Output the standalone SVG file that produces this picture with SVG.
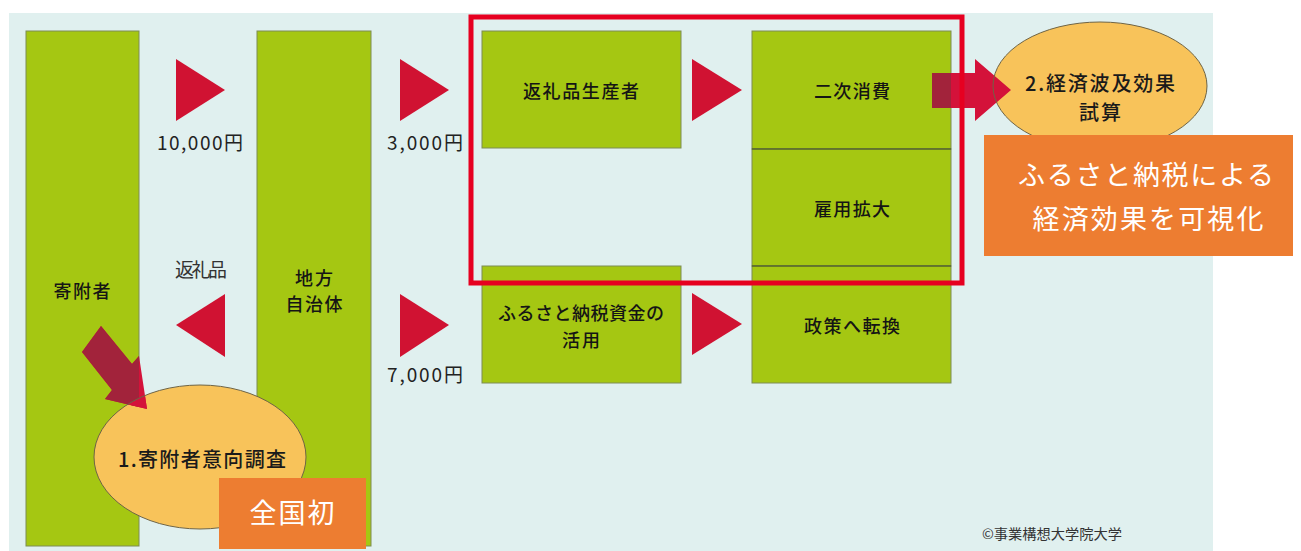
<svg xmlns="http://www.w3.org/2000/svg" width="1301" height="551" viewBox="0 0 1301 551">
  <style>
    .box{fill:#a5c712;stroke:#7d8c55;stroke-width:1}
    .lbl{font-family:"Noto Sans CJK JP","Noto Sans",sans-serif;font-size:18px;fill:#151515;text-anchor:middle;dominant-baseline:central;font-weight:500}
    .num{font-family:"Noto Sans CJK JP","Noto Sans",sans-serif;font-size:19px;fill:#222;text-anchor:middle;dominant-baseline:central}
    .ell{fill:#f8c35a}
    .ellS{fill:none;stroke:#6f6445;stroke-width:1}
    .elab{font-family:"Noto Sans CJK JP","Noto Sans",sans-serif;font-size:20px;fill:#1a1a1a;text-anchor:middle;dominant-baseline:central;font-weight:500}
    .tri{fill:#d01232}
    .orange{fill:#ed7d31}
    .wt{font-family:"Noto Sans CJK JP","Noto Sans",sans-serif;fill:#ffffff;text-anchor:middle;dominant-baseline:central}
    .bright{fill:#d4123a}
    .dark{fill:#a2233b}
  </style>
  <defs>
    <clipPath id="cBox1"><rect x="26" y="31" width="113" height="515"/></clipPath>
    <clipPath id="cEll1"><ellipse cx="200" cy="457" rx="106" ry="72"/></clipPath>
    <clipPath id="cBox4"><rect x="752" y="31" width="199" height="118"/></clipPath>
  </defs>

  <rect x="9" y="13" width="1204" height="538" fill="#e0f0ef"/>

  <g id="node-kifusha">
    <rect class="box" x="26" y="31" width="113" height="515"/>
    <text class="lbl" x="82" y="290" textLength="57" lengthAdjust="spacing">寄附者</text>
  </g>
  <g id="node-chihou">
    <rect class="box" x="257" y="31" width="114" height="515"/>
    <text class="lbl" x="314" y="277" textLength="38" lengthAdjust="spacing">地方</text>
    <text class="lbl" x="314" y="303" textLength="57" lengthAdjust="spacing">自治体</text>
  </g>
  <g id="node-henreihin-seisan">
    <rect class="box" x="482" y="31" width="199" height="117"/>
    <text class="lbl" x="581" y="90" textLength="116" lengthAdjust="spacing">返礼品生産者</text>
  </g>
  <g id="node-katsuyou">
    <rect class="box" x="482" y="266" width="199" height="117"/>
    <text class="lbl" x="581" y="312" textLength="166" lengthAdjust="spacing">ふるさと納税資金の</text>
    <text class="lbl" x="581" y="339" textLength="38" lengthAdjust="spacing">活用</text>
  </g>
  <g id="node-niji">
    <rect class="box" x="752" y="31" width="199" height="118"/>
    <text class="lbl" x="852" y="90" textLength="76" lengthAdjust="spacing">二次消費</text>
  </g>
  <g id="node-koyou">
    <rect class="box" x="752" y="149" width="199" height="117"/>
    <text class="lbl" x="852" y="208" textLength="76" lengthAdjust="spacing">雇用拡大</text>
  </g>
  <g id="node-seisaku">
    <rect class="box" x="752" y="266" width="199" height="117"/>
    <text class="lbl" x="852" y="325" textLength="96" lengthAdjust="spacing">政策へ転換</text>
  </g>
  <line x1="752" y1="149" x2="951" y2="149" stroke="#3d4a1e" stroke-width="1.2"/>
  <line x1="752" y1="266" x2="951" y2="266" stroke="#3d4a1e" stroke-width="1.2"/>

  <g id="connectors">
    <polygon class="tri" points="176,59 225,90 176,121"/>
    <text class="num" x="200" y="141" textLength="86" lengthAdjust="spacing">10,000円</text>
    <polygon class="tri" points="400,59 449,90 400,121"/>
    <text class="num" x="425" y="141" textLength="76" lengthAdjust="spacing">3,000円</text>
    <polygon class="tri" points="692,59 742,90 692,121"/>
    <text class="num" x="201" y="268" font-size="17" textLength="52" lengthAdjust="spacing" style="fill:#333">返礼品</text>
    <polygon class="tri" points="225,294 176,325 225,357"/>
    <polygon class="tri" points="400,294 449,325 400,357"/>
    <text class="num" x="425" y="373" textLength="76" lengthAdjust="spacing">7,000円</text>
    <polygon class="tri" points="692,293 742,324 692,355"/>
  </g>

  <g id="node-survey">
    <ellipse class="ell" cx="200" cy="457" rx="106" ry="72"/>
    <g id="arrow-survey">
      <polygon class="bright" points="101,326 132,364 139,356 147,409 105,399 112,390 82,352"/>
      <polygon class="dark" clip-path="url(#cBox1)" points="101,326 132,364 139,356 147,409 105,399 112,390 82,352"/>
      <polygon class="bright" clip-path="url(#cEll1)" points="101,326 132,364 139,356 147,409 105,399 112,390 82,352"/>
    </g>
    <ellipse class="ellS" cx="200" cy="457" rx="106" ry="72"/>
    <text class="elab" x="202" y="458" font-size="21" textLength="168" lengthAdjust="spacing">1.寄附者意向調査</text>
  </g>

  <g id="node-zenkoku">
    <rect class="orange" x="219" y="478" width="147" height="71"/>
    <text class="wt" x="292" y="511" font-size="27" textLength="85" lengthAdjust="spacing">全国初</text>
  </g>

  <g id="node-keizai">
    <ellipse class="ell" cx="1100" cy="86" rx="107" ry="64"/>
    <g id="arrow-keizai">
      <polygon class="bright" points="932,73 975,73 975,59 1011,90 975,121 975,108 932,108"/>
      <polygon class="dark" clip-path="url(#cBox4)" points="932,73 975,73 975,59 1011,90 975,121 975,108 932,108"/>
    </g>
    <ellipse class="ellS" cx="1100" cy="86" rx="107" ry="64"/>
    <text class="elab" x="1100" y="82" textLength="150" lengthAdjust="spacing">2.経済波及効果</text>
    <text class="elab" x="1100" y="111" textLength="42" lengthAdjust="spacing">試算</text>
  </g>

  <rect id="frame" x="471" y="17" width="491" height="266" fill="none" stroke="#e60020" stroke-width="5"/>

  <g id="node-kashika">
    <rect class="orange" x="984" y="135" width="309" height="121"/>
    <text class="wt" x="1146" y="173" font-size="27" textLength="256" lengthAdjust="spacing">ふるさと納税による</text>
    <text class="wt" x="1148" y="217" font-size="27" textLength="231" lengthAdjust="spacing">経済効果を可視化</text>
  </g>

  <text x="1052" y="533" font-family="Noto Sans CJK JP,Noto Sans,sans-serif" font-size="14" fill="#333" text-anchor="middle" dominant-baseline="central" textLength="140" lengthAdjust="spacingAndGlyphs">©事業構想大学院大学</text>
</svg>
